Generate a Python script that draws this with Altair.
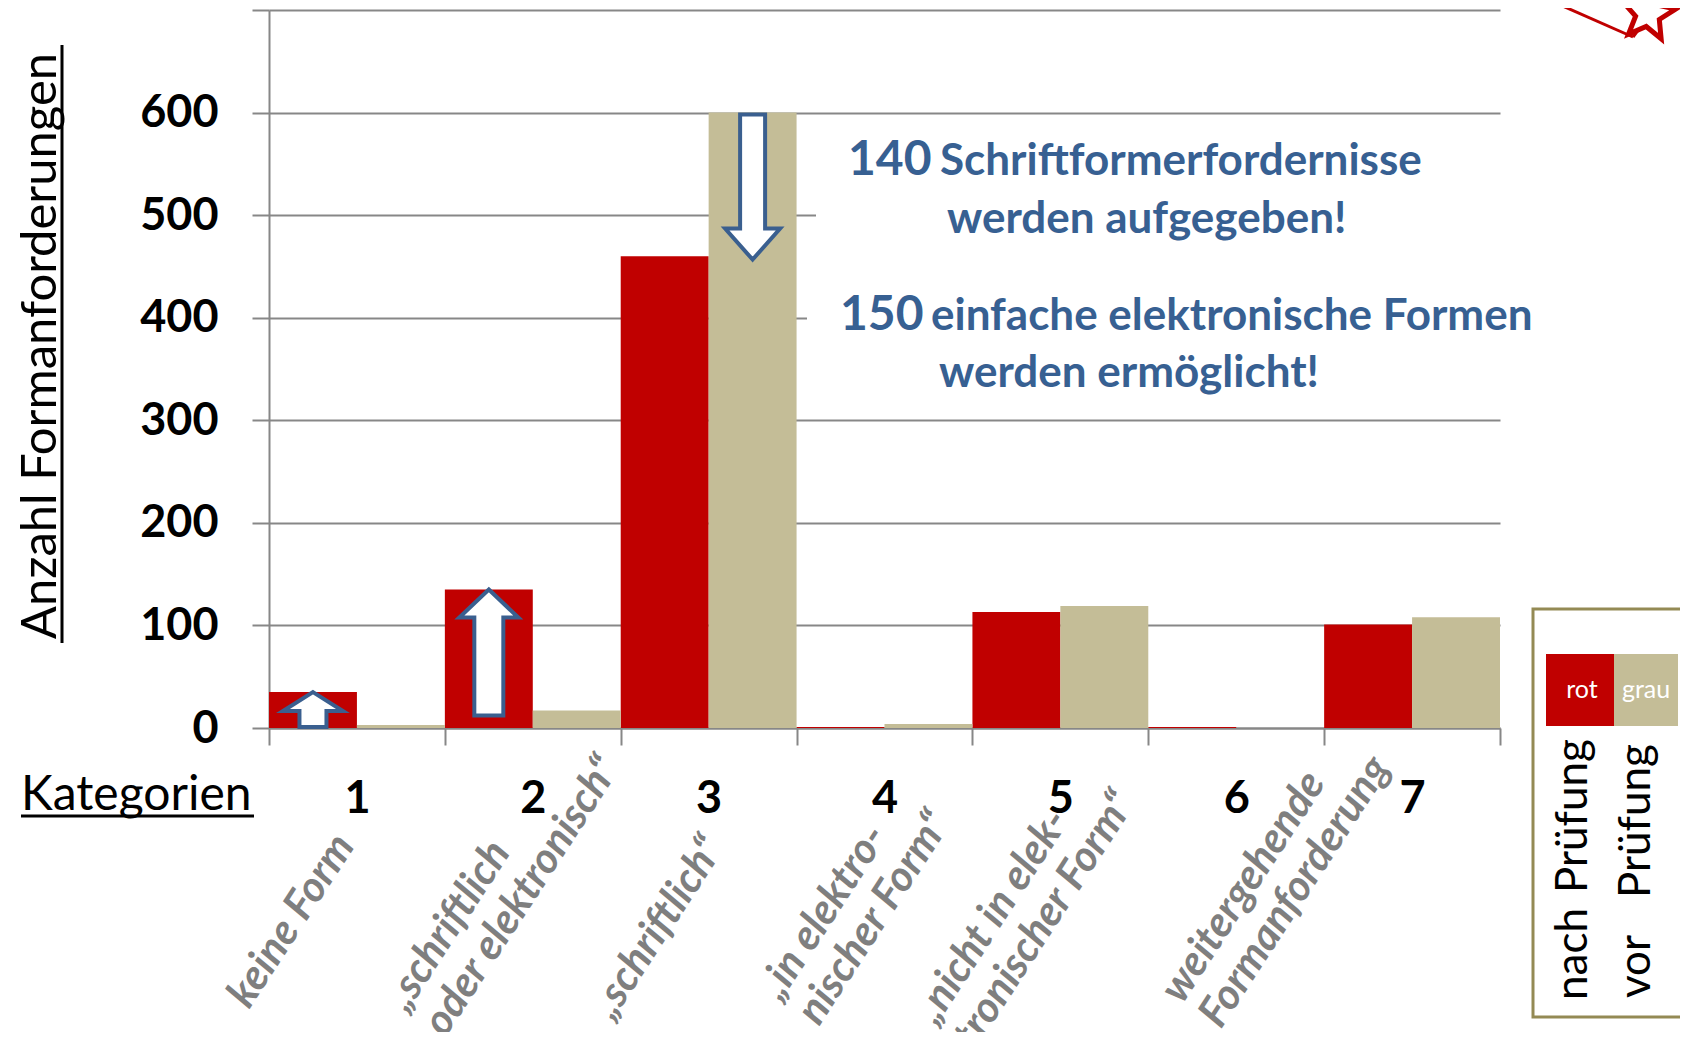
import math
import altair as alt
import pandas as pd

# ---------------- data ----------------
categories = ["1", "2", "3", "4", "5", "6", "7"]
series = ["nach Prüfung", "vor Prüfung"]
nach_pruefung = [35, 135, 460, 1, 113, 1, 101]
vor_pruefung = [3, 17, 600, 4, 119, 0, 108]
y_ticks = [0, 100, 200, 300, 400, 500, 600, 700]
descriptions = [
    ["keine Form"],
    ["„schriftlich", "oder elektronisch“"],
    ["„schriftlich“"],
    ["„in elektro-", "nischer Form“"],
    ["„nicht in elek-", "tronischer Form“"],
    ["weitergehende", "Formanforderung"],
]
note_numbers = ["140", "150"]
note_lines = [["Schriftformerfordernisse", "werden aufgegeben!"],
              ["einfache elektronische Formen", "werden ermöglicht!"]]

# ---------------- layout / style ----------------
W, H = 1231, 718
BW = W / len(categories)
FONT = "Lato"
RED, TAN = "#C00000", "#C4BD97"
GRID = "#878787"
BLUE = "#376092"
ARROW = "#3A5F8F"
LABEL_GRAY = "#7F7F7F"
BOX = "#948A54"

# label anchor (offset from band centre, baseline y) for the rotated descriptions
label_dx = [-108, -126, -96, -104, -124, -54]
label_y = [1000, 1003, 1011, 992, 1016, 995]

df = pd.DataFrame({
    "Kategorie": categories * 2,
    "Serie": [series[0]] * len(categories) + [series[1]] * len(categories),
    "Anzahl": nach_pruefung + vor_pruefung,
})

x_enc = alt.X(
    "Kategorie:N", sort=categories,
    scale=alt.Scale(paddingInner=0, paddingOuter=0),
    axis=alt.Axis(
        title=None, labelAngle=0, labelFont=FONT, labelFontWeight="bold",
        labelFontSize=45, labelColor="black", labelBaseline="alphabetic",
        labelPadding=67, tickBand="extent", tickSize=17, tickColor=GRID,
        tickWidth=2, domainColor=GRID, domainWidth=2, grid=False,
    ),
)
xoff_enc = alt.XOffset("Serie:N", sort=series,
                       scale=alt.Scale(domain=series, paddingInner=0, paddingOuter=0))
y_enc = alt.Y(
    "Anzahl:Q", scale=alt.Scale(domain=[0, 700], nice=False),
    axis=alt.Axis(
        title=None, values=y_ticks,
        labelExpr="datum.value >= 700 ? '' : datum.label",
        labelFont=FONT, labelFontWeight="bold", labelFontSize=45,
        labelColor="black", labelPadding=34, labelBaseline="middle",
        tickSize=17, tickColor=GRID, tickWidth=2,
        domainColor=GRID, domainWidth=2,
        grid=True, gridColor=GRID, gridWidth=2,
    ),
)

bars = alt.Chart(df).mark_bar(stroke=None).encode(
    x=x_enc, xOffset=xoff_enc, y=y_enc,
    color=alt.Color("Serie:N", scale=alt.Scale(domain=series, range=[RED, TAN]), legend=None),
)

# arrows anchored on bar tops
p_small = "M0,0 L30,19 L13.5,19 L13.5,35 L-13.5,35 L-13.5,19 L-30,19 Z"
p_up = "M0,0 L29.5,28 L14.5,28 L14.5,126 L-14.5,126 L-14.5,28 L-29.5,28 Z"
p_down = "M-12.5,2 L12.5,2 L12.5,116 L27.5,116 L0,147 L-27.5,116 L-12.5,116 Z"
arrow_df = pd.DataFrame({
    "Kategorie": [categories[0], categories[1], categories[2]],
    "Serie": [series[0], series[0], series[1]],
    "Anzahl": [nach_pruefung[0], nach_pruefung[1], vor_pruefung[2]],
    "Pfeil": ["a", "b", "c"],
})
arrows = alt.Chart(arrow_df).mark_point(
    size=4, filled=True, fill="white", stroke=ARROW, strokeWidth=4,
    opacity=1, fillOpacity=1, strokeOpacity=1, strokeJoin="miter",
).encode(
    x=alt.X("Kategorie:N", sort=categories),
    xOffset=alt.XOffset("Serie:N", sort=series),
    y=alt.Y("Anzahl:Q"),
    shape=alt.Shape("Pfeil:N", scale=alt.Scale(domain=["a", "b", "c"],
                                                range=[p_small, p_up, p_down]),
                    legend=None),
)

one = pd.DataFrame({"_": [0]})


def txt(text, x, y, size, color="black", weight="normal", style="normal",
        align="left", angle=0, baseline="alphabetic", line_height=None):
    kw = dict(text=text, font=FONT, fontSize=size, color=color,
              fontWeight=weight, fontStyle=style, align=align,
              baseline=baseline, angle=angle)
    if line_height:
        kw["lineHeight"] = line_height
    return alt.Chart(one).mark_text(**kw).encode(x=alt.value(x), y=alt.value(y))


def rule(x, y, x2, y2, color, width):
    return alt.Chart(one).mark_rule(color=color, strokeWidth=width).encode(
        x=alt.value(x), y=alt.value(y), x2=alt.value(x2), y2=alt.value(y2))


def rect(x, y, x2, y2, fill, stroke=None, sw=0):
    kw = dict(fill=fill, opacity=1)
    if stroke:
        kw.update(stroke=stroke, strokeWidth=sw)
    else:
        kw.update(strokeWidth=0)
    return alt.Chart(one).mark_rect(**kw).encode(
        x=alt.value(x), y=alt.value(y), x2=alt.value(x2), y2=alt.value(y2))


layers = [bars, arrows]

# white boxes behind notes (they hide the gridlines)
layers += [rect(547, 115, W + 6, 242, "white"), rect(538, 250, W + 6, 392, "white")]

# notes
layers += [
    txt(note_numbers[0], 579, 165, 48, BLUE, "bold"),
    txt(note_lines[0][0], 671, 165, 44, BLUE, "bold"),
    txt(note_lines[0][1], 678, 223, 44, BLUE, "bold"),
    txt(note_numbers[1], 571, 320, 48, BLUE, "bold"),
    txt(note_lines[1][0], 662, 320, 44, BLUE, "bold"),
    txt(note_lines[1][1], 670, 377, 44, BLUE, "bold"),
]

# y title with underline
layers += [
    txt("Anzahl Formanforderungen", -213, 336, 49, angle=270, align="center"),
    rule(-207, 35, -207, 633, "black", 3),
]
# "Kategorien" with underline
layers += [
    txt("Kategorien", -248, 800, 48),
    rule(-248, 806, -15, 806, "black", 3),
]

# rotated category descriptions
for i, lines in enumerate(descriptions):
    cx = (i + 0.5) * BW + label_dx[i]
    layers.append(txt(lines, cx, label_y[i], 42.5, LABEL_GRAY, "bold", "italic",
                      angle=303, line_height=46))

# custom legend box
layers += [
    rect(1264, 599, 1460, 1007, "white", BOX, 3),
    rect(1277, 644, 1345, 716, RED),
    rect(1345, 644, 1409, 716, TAN),
    txt("rot", 1313, 688, 25, "white", align="center"),
    txt("grau", 1377, 688, 25, "white", align="center"),
    txt("nach", 1318, 990, 44, angle=270),
    txt("Prüfung", 1318, 883, 44, angle=270),
    txt("vor", 1381, 988, 44, angle=270),
    txt("Prüfung", 1381, 888, 44, angle=270),
]

# decorative logo fragment (top right)
pts = []
for k in range(10):
    a = math.radians(-10 + 36 * k)
    r = 1.0 if k % 2 == 0 else 0.45
    pts.append(f"{r * math.cos(a):.3f},{r * math.sin(a):.3f}")
star_path = "M" + " L".join(pts) + " Z"
layers += [
    rule(1280, -10, 1364, 27, RED, 3),
    rule(1364, 27, 1370, 19, RED, 3),
    alt.Chart(one).mark_point(shape=star_path, size=(2 * 28) ** 2, filled=True,
                              fill="white", stroke=RED, strokeWidth=5,
                              opacity=1, fillOpacity=1).encode(
        x=alt.value(1379), y=alt.value(4)),
]

chart = alt.layer(*layers).properties(
    width=W, height=H,
    autosize=alt.AutoSizeParams(type="none"),
    padding={"left": 261, "top": 2, "right": 180, "bottom": 304},
    background="white",
).configure_view(stroke=None)

chart.save("out.html", embed_options={"renderer": "svg", "actions": False})
